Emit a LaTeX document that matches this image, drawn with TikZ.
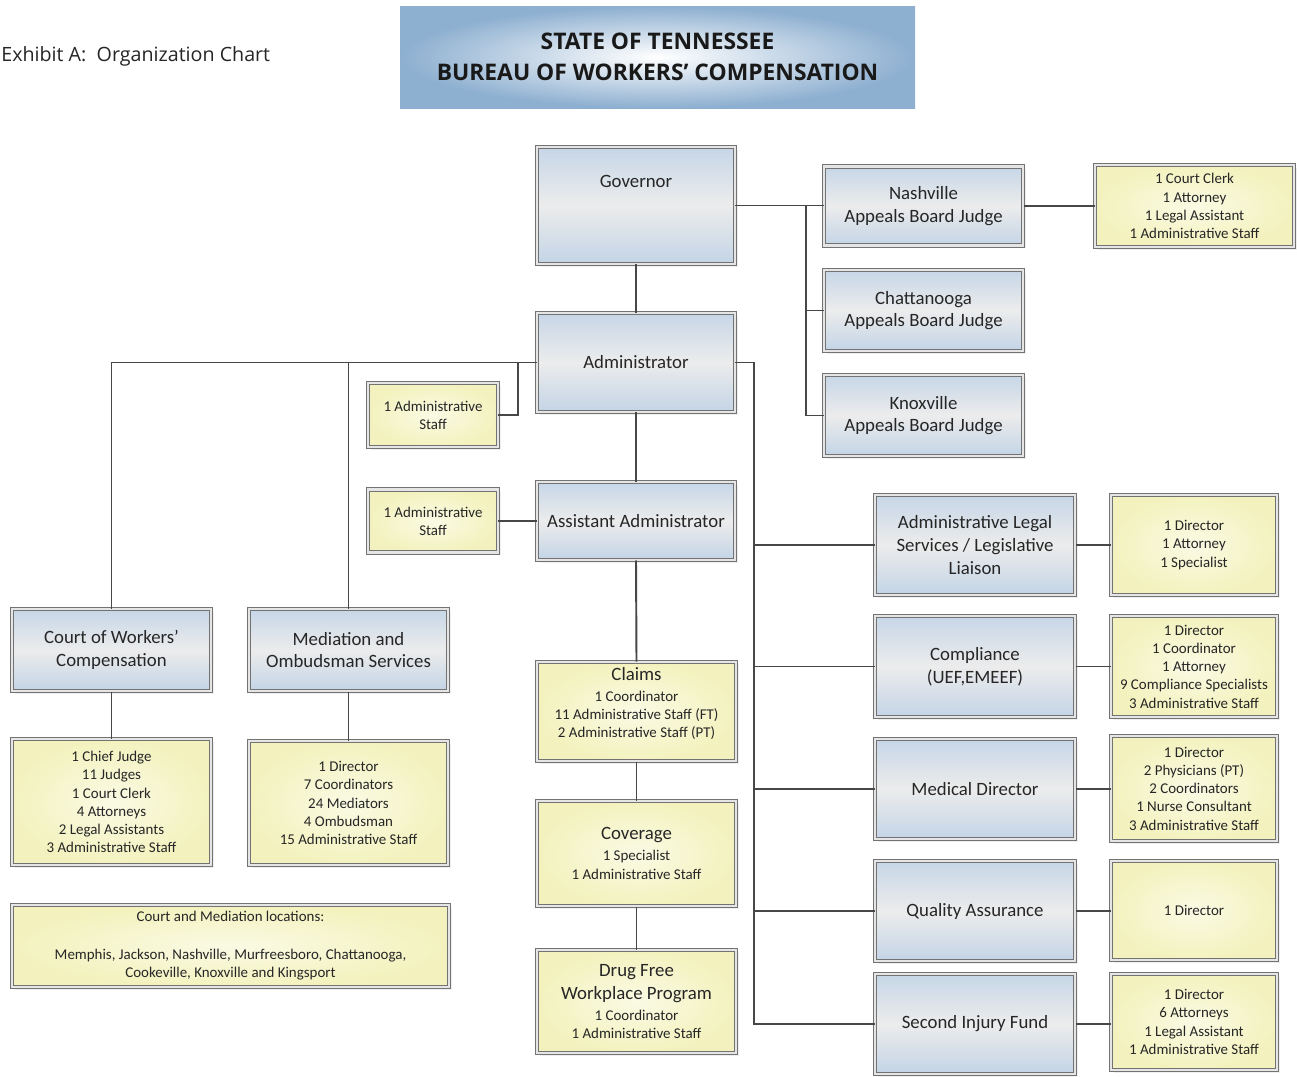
\documentclass[tikz,border=0pt]{standalone}
\usepackage{fontspec}
\setmainfont{Carlito}
\newfontfamily\opensans{Open Sans}
\usetikzlibrary{shadows}
\definecolor{bluetop}{HTML}{C6D6E7}
\definecolor{bluemid}{HTML}{ECECEC}
\definecolor{bluebot}{HTML}{C3D4E6}
\definecolor{ylwin}{HTML}{FAFAE4}
\definecolor{ylwout}{HTML}{F3F2BE}
\definecolor{titleblue}{HTML}{8DAFD0}
\tikzset{
  box/.style={draw=black!55, double=black!10, double distance=1.4pt, line width=0.55pt,
    align=center, text=black!85, inner sep=2pt,
    drop shadow={opacity=0.12, shadow xshift=1.5pt, shadow yshift=-1.5pt}},
  blu/.style={box, top color=bluetop, bottom color=bluebot, middle color=bluemid,
    font=\fontsize{10.7}{13}\selectfont},
  ylw/.style={box, inner color=ylwin, outer color=ylwout,
    font=\fontsize{8.5}{10.4}\selectfont},
  sz/.style 2 args={minimum width={#1*0.02cm}, minimum height={#2*0.02cm}},
  link/.style={draw=black!72, line width=1.1pt},
}
\newcommand{\bigf}{\fontsize{10.7}{13}\selectfont}
\begin{document}
\begin{tikzpicture}[x=0.02cm, y=-0.02cm]
  \useasboundingbox[fill=white] (0,0) rectangle (1297,1076);
  % heading
  \node[anchor=west, inner sep=0pt, font=\opensans\fontsize{11.2}{13}\selectfont, text=black!85] (exhibit) at (1,56) {Exhibit A:\ \ Organization Chart};
  \node[sz={515}{102}, inner color=white, outer color=titleblue, align=center,
    font=\opensans\bfseries\fontsize{13}{18}\selectfont, text=black!90] (title) at (657.5,57)
    {STATE OF TENNESSEE\\BUREAU OF WORKERS’ COMPENSATION};
  % centre column
  \node[blu, sz={198}{117}, text depth=0.95cm] (gov) at (636,205.5) {Governor};
  \node[blu, sz={198}{99}] (adm) at (636,362.5) {Administrator};
  \node[blu, sz={198}{78}] (asst) at (636,521) {Assistant Administrator};
  \node[ylw, sz={130}{64}] (staffA) at (433,415) {1 Administrative\\Staff};
  \node[ylw, sz={130}{63}] (staffB) at (433,521) {1 Administrative\\Staff};
  \node[ylw, sz={199}{99}] (claims) at (636.5,711.5) {{\bigf Claims}\\[1.5pt]1 Coordinator\\11 Administrative Staff (FT)\\2 Administrative Staff (PT)\\\mbox{}};
  \node[ylw, sz={199}{105}] (cover) at (636.5,853.5) {{\bigf Coverage}\\[1.5pt]1 Specialist\\1 Administrative Staff};
  \node[ylw, sz={199}{103}] (drug) at (636.5,1001.5) {{\bigf Drug Free}\\[2.6pt]{\bigf Workplace Program}\\[1.5pt]1 Coordinator\\1 Administrative Staff};
  % appeals board
  \node[blu, sz={199}{79}] (nash) at (923.5,206) {Nashville\\Appeals Board Judge};
  \node[blu, sz={199}{81}] (chat) at (923.5,310.5) {Chattanooga\\Appeals Board Judge};
  \node[blu, sz={199}{81}] (knox) at (923.5,415.5) {Knoxville\\Appeals Board Judge};
  \node[ylw, sz={199}{82}] (nash-st) at (1194.5,206) {1 Court Clerk\\1 Attorney\\1 Legal Assistant\\1 Administrative Staff};
  % divisions on the right
  \node[blu, sz={200}{100}] (legal) at (975,545) {Administrative Legal\\Services / Legislative\\Liaison};
  \node[blu, sz={200}{101}] (compl) at (975,666.5) {Compliance\\(UEF,EMEEF)};
  \node[blu, sz={200}{100}] (med) at (975,789) {Medical Director};
  \node[blu, sz={200}{100}] (qa) at (975,911) {Quality Assurance};
  \node[blu, sz={200}{100}] (sif) at (975,1024) {Second Injury Fund};
  \node[ylw, sz={166}{100}] (legal-st) at (1194,545) {1 Director\\1 Attorney\\1 Specialist};
  \node[ylw, sz={166}{101}] (compl-st) at (1194,666.5) {1 Director\\1 Coordinator\\1 Attorney\\9 Compliance Specialists\\3 Administrative Staff};
  \node[ylw, sz={166}{105}] (med-st) at (1194,788.5) {1 Director\\2 Physicians (PT)\\2 Coordinators\\1 Nurse Consultant\\3 Administrative Staff};
  \node[ylw, sz={166}{99}] (qa-st) at (1194,910.5) {1 Director};
  \node[ylw, sz={166}{96}] (sif-st) at (1194,1022) {1 Director\\6 Attorneys\\1 Legal Assistant\\1 Administrative Staff};
  % court and mediation
  \node[blu, sz={199}{82}] (court) at (111.5,650) {Court of Workers’\\Compensation};
  \node[blu, sz={199}{82}] (medi) at (348.5,650) {Mediation and\\Ombudsman Services};
  \node[ylw, sz={199}{126}] (court-st) at (111.5,802) {1 Chief Judge\\11 Judges\\1 Court Clerk\\4 Attorneys\\2 Legal Assistants\\3 Administrative Staff};
  \node[ylw, sz={199}{124}] (medi-st) at (348.5,803) {1 Director\\7 Coordinators\\24 Mediators\\4 Ombudsman\\15 Administrative Staff};
  \node[ylw, sz={437}{82}] (loc) at (230.5,946) {Court and Mediation locations:\\[11pt]Memphis, Jackson, Nashville, Murfreesboro, Chattanooga,\\Cookeville, Knoxville and Kingsport};
  % connectors
  \coordinate (abus) at (806,206);
  \coordinate (tapA) at (518,362.5);
  \coordinate (rbus) at (754,362.5);
  \foreach \a/\b in {gov/adm, adm/asst, asst/claims, claims/cover, cover/drug, court/court-st, medi/medi-st}
    \draw[link] (\a.south) -- (\b.north);
  \draw[link] (gov.east) -- (gov.east -| nash.west);
  \draw[link] (abus) |- (knox.west);
  \draw[link] (abus |- chat.west) -- (chat.west);
  \draw[link] (nash.east) -- (nash.east -| nash-st.west);
  \draw[link] (adm.west) -| (court.north);
  \draw[link] (medi.north) |- (adm.west);
  \draw[link] (tapA) |- (staffA.east);
  \draw[link] (asst.west) -- (staffB.east);
  \draw[link] (adm.east) -| (rbus |- sif.west) -- (sif.west);
  \foreach \n in {legal,compl,med,qa}
    \draw[link] (rbus |- \n.west) -- (\n.west);
  \foreach \n in {legal,compl,med,qa,sif}
    \draw[link] (\n.east) -- (\n.east -| \n-st.west);
\end{tikzpicture}
\end{document}
